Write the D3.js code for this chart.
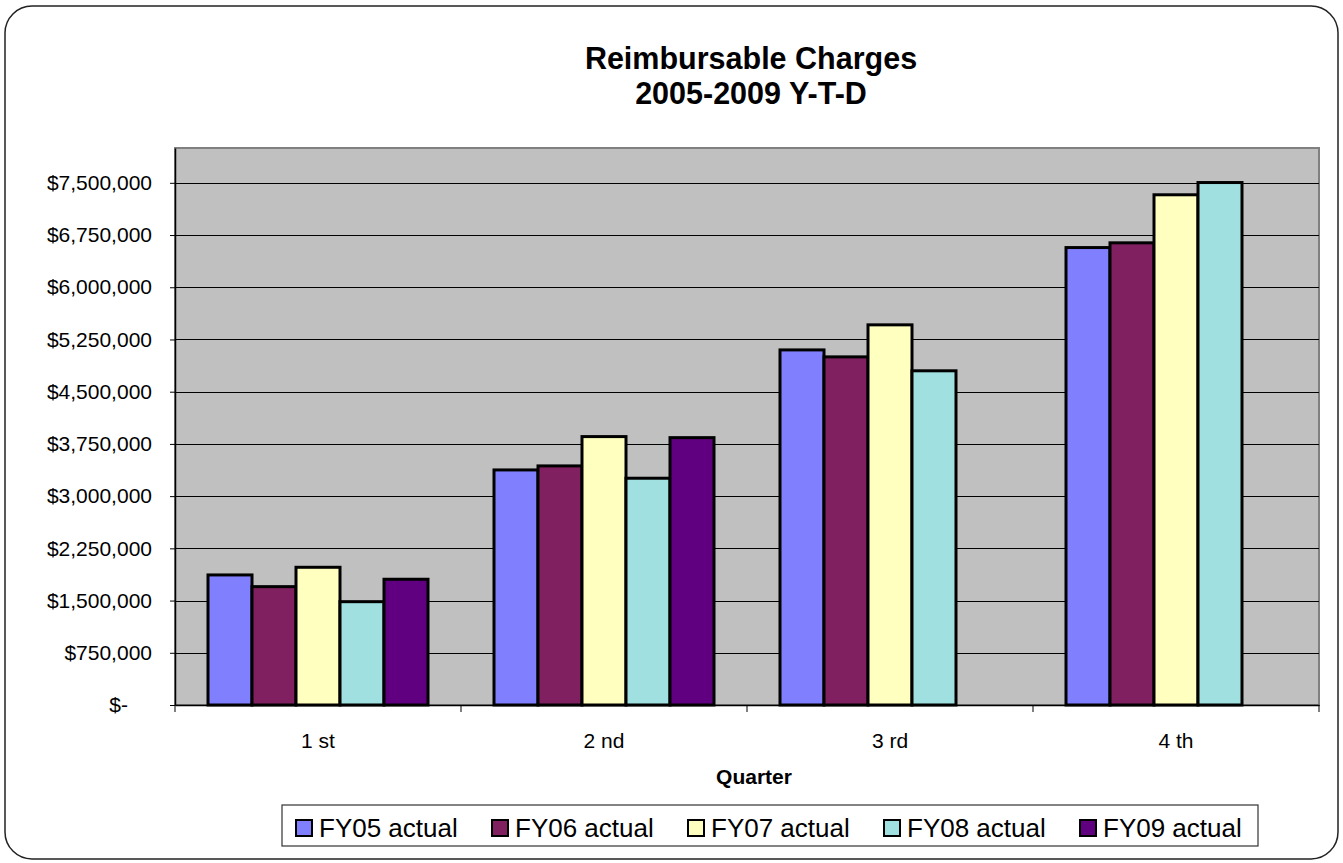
<!DOCTYPE html>
<html>
<head>
<meta charset="utf-8">
<script src="https://cdn.jsdelivr.net/npm/d3@7"></script>
<style>
  html, body { margin: 0; padding: 0; background: #ffffff; }
  svg { display: block; font-family: "Liberation Sans", Arial, sans-serif; }
</style>
</head>
<body>
<svg id="chart" width="1343" height="863"></svg>
<script>
// ---- Data ----
const quarters = ["1 st", "2 nd", "3 rd", "4 th"];
const seriesNames = ["FY05 actual", "FY06 actual", "FY07 actual", "FY08 actual", "FY09 actual"];
const fy05 = [1868000, 3376000, 5100000, 6570000];
const fy06 = [1700000, 3434000, 5000000, 6638000];
const fy07 = [1978000, 3855000, 5460000, 7328000];
const fy08 = [1484000, 3257000, 4800000, 7504000];
const fy09 = [1806000, 3840000, null, null];
const seriesColors = ["#8080FF", "#802060", "#FFFFC0", "#A0E0E0", "#600080"];
const yTicks = [0, 750000, 1500000, 2250000, 3000000, 3750000, 4500000, 5250000, 6000000, 6750000, 7500000];
const titleLines = ["Reimbursable Charges", "2005-2009 Y-T-D"];
const xTitle = "Quarter";

const seriesValues = [fy05, fy06, fy07, fy08, fy09];

// ---- Layout ----
const svg = d3.select("#chart");
const plot = { left: 175, right: 1319, top: 148, bottom: 705 };

// Outer rounded border
svg.append("rect")
  .attr("x", 5).attr("y", 6)
  .attr("width", 1333).attr("height", 853)
  .attr("rx", 27).attr("ry", 27)
  .attr("fill", "#ffffff")
  .attr("stroke", "#222")
  .attr("stroke-width", 1.5);

// Title
svg.append("text")
  .attr("text-anchor", "middle")
  .attr("font-weight", "bold").attr("font-size", 30.5)
  .selectAll("tspan").data(titleLines).join("tspan")
  .attr("x", 751)
  .attr("y", (d, i) => 69 + i * 35)
  .text(d => d);

// Scales
const x = d3.scaleBand().domain(quarters).range([plot.left, plot.right]).padding(0);
const xInner = d3.scaleBand().domain(seriesNames).range([0, x.bandwidth()])
  .paddingInner(0).paddingOuter(0.75);
const y = d3.scaleLinear().domain([0, 8000000]).range([plot.bottom, plot.top]);

// Plot area background
svg.append("rect")
  .attr("x", plot.left).attr("y", plot.top)
  .attr("width", plot.right - plot.left).attr("height", plot.bottom - plot.top)
  .attr("fill", "#C0C0C0")
  .attr("stroke", "#808080").attr("stroke-width", 2);

// Gridlines
svg.append("g").selectAll("line").data(yTicks.filter(d => d > 0)).join("line")
  .attr("x1", plot.left).attr("x2", plot.right)
  .attr("y1", d => Math.round(y(d)) + 0.5).attr("y2", d => Math.round(y(d)) + 0.5)
  .attr("stroke", "#000").attr("stroke-width", 1);

// Bars
const data = [];
quarters.forEach((q, qi) => {
  seriesNames.forEach((s, si) => {
    const v = seriesValues[si][qi];
    if (v != null) data.push({ q, s, si, v });
  });
});
svg.append("g").selectAll("rect").data(data).join("rect")
  .attr("x", d => x(d.q) + xInner(d.s))
  .attr("y", d => y(d.v))
  .attr("width", xInner.bandwidth())
  .attr("height", d => y(0) - y(d.v))
  .attr("fill", d => seriesColors[d.si])
  .attr("stroke", "#000").attr("stroke-width", 3);

// Y axis
const yAxis = d3.axisLeft(y).tickValues(yTicks).tickSizeInner(5).tickSizeOuter(0).tickPadding(18)
  .tickFormat(d => d === 0 ? "$-" : "$" + d3.format(",")(d));
const yg = svg.append("g").attr("transform", `translate(${plot.left},0)`).call(yAxis);
yg.select(".domain").attr("stroke", "#000").attr("stroke-width", 1.5);
yg.selectAll(".tick line").attr("stroke", "#000");
yg.selectAll(".tick text").attr("font-size", 21).attr("fill", "#000")
  .attr("font-family", "'Liberation Sans', Arial, sans-serif")
  .attr("dx", d => d === 0 ? -24 : 0);

// X axis
const xAxis = d3.axisBottom(x).tickSize(0).tickPadding(28);
const xg = svg.append("g").attr("transform", `translate(0,${plot.bottom})`).call(xAxis);
xg.select(".domain").attr("stroke", "#000").attr("stroke-width", 1.5);
xg.selectAll(".tick text").attr("font-size", 21).attr("fill", "#000")
  .attr("font-family", "'Liberation Sans', Arial, sans-serif");
// Category boundary tick marks
const boundaries = quarters.map(q => x(q)).concat([x(quarters[quarters.length - 1]) + x.bandwidth()]);
svg.append("g").selectAll("line").data(boundaries).join("line")
  .attr("x1", d => d).attr("x2", d => d)
  .attr("y1", plot.bottom).attr("y2", plot.bottom + 7)
  .attr("stroke", "#000").attr("stroke-width", 1);

// X title
svg.append("text")
  .attr("x", 754).attr("y", 784)
  .attr("text-anchor", "middle").attr("font-weight", "bold").attr("font-size", 21)
  .text(xTitle);

// Legend
const legendBox = { x: 282, y: 805, w: 976, h: 41 };
svg.append("rect")
  .attr("x", legendBox.x).attr("y", legendBox.y)
  .attr("width", legendBox.w).attr("height", legendBox.h)
  .attr("fill", "#fff").attr("stroke", "#333").attr("stroke-width", 1.2);
const items = svg.append("g").selectAll("g").data(seriesNames).join("g")
  .attr("transform", (d, i) => `translate(${296 + i * 196},0)`);
items.append("rect")
  .attr("x", 0).attr("y", 820).attr("width", 16).attr("height", 16)
  .attr("fill", (d, i) => seriesColors[i])
  .attr("stroke", "#000").attr("stroke-width", 2);
items.append("text")
  .attr("x", 23).attr("y", 837)
  .attr("font-size", 26).attr("fill", "#000")
  .text(d => d);
</script>
</body>
</html>
